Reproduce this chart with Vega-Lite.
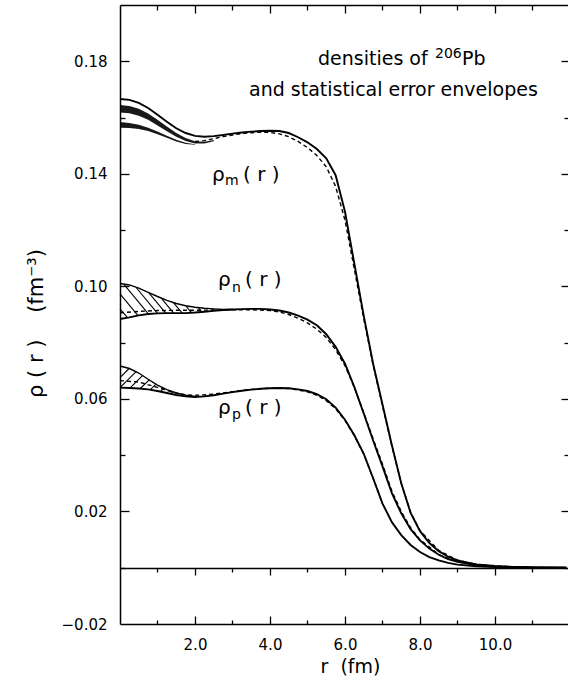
{
  "$schema": "https://vega.github.io/schema/vega-lite/v6.json",
  "width": 448,
  "height": 619,
  "autosize": {"type": "none"},
  "padding": {"left": 120, "top": 5, "right": 0, "bottom": 56},
  "background": "white",
  "config": {
    "view": {"stroke": null},
    "axis": {"grid": false, "domainColor": "black", "tickColor": "black", "labelColor": "black", "titleColor": "black", "labelFont": "DejaVu Sans", "titleFont": "DejaVu Sans", "domainWidth": 1.5, "tickWidth": 1.3, "titleFontWeight": "normal"}
  },
  "datasets": {
    "main": [
      {"s":"m","r":0,"v":0.1666},{"s":"m","r":0.25,"v":0.1663},{"s":"m","r":0.5,"v":0.1652},{"s":"m","r":0.75,"v":0.1634},{"s":"m","r":1,"v":0.1610},{"s":"m","r":1.25,"v":0.1585},{"s":"m","r":1.5,"v":0.1562},{"s":"m","r":1.75,"v":0.1545},{"s":"m","r":2,"v":0.1535},{"s":"m","r":2.25,"v":0.1532},{"s":"m","r":2.5,"v":0.1534},{"s":"m","r":2.75,"v":0.1538},{"s":"m","r":3,"v":0.1543},{"s":"m","r":3.25,"v":0.1547},{"s":"m","r":3.5,"v":0.1550},{"s":"m","r":3.75,"v":0.1552},{"s":"m","r":4,"v":0.1553},{"s":"m","r":4.25,"v":0.1552},{"s":"m","r":4.5,"v":0.1545},{"s":"m","r":4.75,"v":0.1530},{"s":"m","r":5,"v":0.1512},{"s":"m","r":5.25,"v":0.1488},{"s":"m","r":5.5,"v":0.1455},{"s":"m","r":5.75,"v":0.1395},{"s":"m","r":6,"v":0.1265},{"s":"m","r":6.25,"v":0.1080},{"s":"m","r":6.5,"v":0.0895},{"s":"m","r":6.75,"v":0.0725},{"s":"m","r":7,"v":0.0580},{"s":"m","r":7.25,"v":0.0435},{"s":"m","r":7.5,"v":0.0300},{"s":"m","r":7.75,"v":0.0195},{"s":"m","r":8,"v":0.0130},{"s":"m","r":8.25,"v":0.0088},{"s":"m","r":8.5,"v":0.0059},{"s":"m","r":8.75,"v":0.0039},{"s":"m","r":9,"v":0.0026},{"s":"m","r":9.5,"v":0.0012},{"s":"m","r":10,"v":0.0006},{"s":"m","r":10.5,"v":0.0003},{"s":"m","r":11,"v":0.0001},{"s":"m","r":11.9,"v":0.0},
      {"s":"n","r":0,"v":0.0884},{"s":"n","r":0.25,"v":0.0890},{"s":"n","r":0.5,"v":0.0897},{"s":"n","r":0.75,"v":0.0902},{"s":"n","r":1,"v":0.0904},{"s":"n","r":1.25,"v":0.0905},{"s":"n","r":1.5,"v":0.0905},{"s":"n","r":1.75,"v":0.0905},{"s":"n","r":2,"v":0.0907},{"s":"n","r":2.25,"v":0.0910},{"s":"n","r":2.5,"v":0.0913},{"s":"n","r":2.75,"v":0.0916},{"s":"n","r":3,"v":0.0918},{"s":"n","r":3.25,"v":0.0919},{"s":"n","r":3.5,"v":0.0920},{"s":"n","r":3.75,"v":0.0920},{"s":"n","r":4,"v":0.0918},{"s":"n","r":4.25,"v":0.0914},{"s":"n","r":4.5,"v":0.0907},{"s":"n","r":4.75,"v":0.0896},{"s":"n","r":5,"v":0.0882},{"s":"n","r":5.25,"v":0.0862},{"s":"n","r":5.5,"v":0.0830},{"s":"n","r":5.75,"v":0.0785},{"s":"n","r":6,"v":0.0725},{"s":"n","r":6.25,"v":0.0642},{"s":"n","r":6.5,"v":0.0548},{"s":"n","r":6.75,"v":0.0452},{"s":"n","r":7,"v":0.0360},{"s":"n","r":7.25,"v":0.0265},{"s":"n","r":7.5,"v":0.0193},{"s":"n","r":7.75,"v":0.0137},{"s":"n","r":8,"v":0.0097},{"s":"n","r":8.25,"v":0.0068},{"s":"n","r":8.5,"v":0.0046},{"s":"n","r":8.75,"v":0.0031},{"s":"n","r":9,"v":0.0021},{"s":"n","r":9.5,"v":0.0009},{"s":"n","r":10,"v":0.0004},{"s":"n","r":10.5,"v":0.0002},{"s":"n","r":11,"v":0.0001},{"s":"n","r":11.9,"v":0.0},
      {"s":"p","r":0,"v":0.0640},{"s":"p","r":0.25,"v":0.0639},{"s":"p","r":0.5,"v":0.0637},{"s":"p","r":0.75,"v":0.0634},{"s":"p","r":1,"v":0.0628},{"s":"p","r":1.25,"v":0.0621},{"s":"p","r":1.5,"v":0.0614},{"s":"p","r":1.75,"v":0.0609},{"s":"p","r":2,"v":0.0607},{"s":"p","r":2.25,"v":0.0609},{"s":"p","r":2.5,"v":0.0613},{"s":"p","r":2.75,"v":0.0619},{"s":"p","r":3,"v":0.0624},{"s":"p","r":3.25,"v":0.0629},{"s":"p","r":3.5,"v":0.0633},{"s":"p","r":3.75,"v":0.0636},{"s":"p","r":4,"v":0.0638},{"s":"p","r":4.25,"v":0.0639},{"s":"p","r":4.5,"v":0.0638},{"s":"p","r":4.75,"v":0.0634},{"s":"p","r":5,"v":0.0628},{"s":"p","r":5.25,"v":0.0617},{"s":"p","r":5.5,"v":0.0599},{"s":"p","r":5.75,"v":0.0569},{"s":"p","r":6,"v":0.0526},{"s":"p","r":6.25,"v":0.0471},{"s":"p","r":6.5,"v":0.0405},{"s":"p","r":6.75,"v":0.0318},{"s":"p","r":7,"v":0.0228},{"s":"p","r":7.25,"v":0.0162},{"s":"p","r":7.5,"v":0.0116},{"s":"p","r":7.75,"v":0.0081},{"s":"p","r":8,"v":0.0056},{"s":"p","r":8.25,"v":0.0038},{"s":"p","r":8.5,"v":0.0026},{"s":"p","r":8.75,"v":0.0017},{"s":"p","r":9,"v":0.0011},{"s":"p","r":9.5,"v":0.0005},{"s":"p","r":10,"v":0.0002},{"s":"p","r":11,"v":0.0},{"s":"p","r":11.9,"v":0.0}
    ],
    "dashed": [
      {"s":"m","r":2,"v":0.1515},{"s":"m","r":2.25,"v":0.1518},{"s":"m","r":2.5,"v":0.1525},{"s":"m","r":2.75,"v":0.1532},{"s":"m","r":3,"v":0.1538},{"s":"m","r":3.25,"v":0.1543},{"s":"m","r":3.5,"v":0.1546},{"s":"m","r":3.75,"v":0.1548},{"s":"m","r":4,"v":0.1547},{"s":"m","r":4.25,"v":0.1542},{"s":"m","r":4.5,"v":0.1532},{"s":"m","r":4.75,"v":0.1515},{"s":"m","r":5,"v":0.1493},{"s":"m","r":5.25,"v":0.1465},{"s":"m","r":5.5,"v":0.1425},{"s":"m","r":5.75,"v":0.1355},{"s":"m","r":6,"v":0.1235},{"s":"m","r":6.25,"v":0.1060},{"s":"m","r":6.5,"v":0.0885},{"s":"m","r":6.75,"v":0.0720},{"s":"m","r":7,"v":0.0575},{"s":"m","r":7.25,"v":0.0433},{"s":"m","r":7.5,"v":0.0300},{"s":"m","r":7.75,"v":0.0197},{"s":"m","r":8,"v":0.0132},{"s":"m","r":8.5,"v":0.0061},{"s":"m","r":9,"v":0.0027},{"s":"m","r":9.5,"v":0.0012},{"s":"m","r":10,"v":0.0006},{"s":"m","r":11,"v":0.0001},
      {"s":"n","r":0,"v":0.0906},{"s":"n","r":0.5,"v":0.0911},{"s":"n","r":1,"v":0.0914},{"s":"n","r":1.5,"v":0.0915},{"s":"n","r":2,"v":0.0915},{"s":"n","r":2.5,"v":0.0916},{"s":"n","r":3,"v":0.0917},{"s":"n","r":3.5,"v":0.0917},{"s":"n","r":4,"v":0.0914},{"s":"n","r":4.25,"v":0.0909},{"s":"n","r":4.5,"v":0.0900},{"s":"n","r":4.75,"v":0.0887},{"s":"n","r":5,"v":0.0870},{"s":"n","r":5.25,"v":0.0848},{"s":"n","r":5.5,"v":0.0818},{"s":"n","r":5.75,"v":0.0775},{"s":"n","r":6,"v":0.0718},{"s":"n","r":6.25,"v":0.0640},{"s":"n","r":6.5,"v":0.0550},{"s":"n","r":6.75,"v":0.0458},{"s":"n","r":7,"v":0.0368},{"s":"n","r":7.25,"v":0.0272},{"s":"n","r":7.5,"v":0.0200},{"s":"n","r":7.75,"v":0.0142},{"s":"n","r":8,"v":0.0100},{"s":"n","r":8.5,"v":0.0047},{"s":"n","r":9,"v":0.0021},{"s":"n","r":10,"v":0.0004},{"s":"n","r":11,"v":0.0001},
      {"s":"p","r":0,"v":0.0665},{"s":"p","r":0.5,"v":0.0660},{"s":"p","r":1,"v":0.0641},{"s":"p","r":1.25,"v":0.0630},{"s":"p","r":1.5,"v":0.0621},{"s":"p","r":1.75,"v":0.0615},{"s":"p","r":2,"v":0.0613},{"s":"p","r":2.25,"v":0.0614},{"s":"p","r":2.5,"v":0.0617},{"s":"p","r":3,"v":0.0626},{"s":"p","r":3.5,"v":0.0634},{"s":"p","r":4,"v":0.0638},{"s":"p","r":4.5,"v":0.0637},{"s":"p","r":4.75,"v":0.0632},{"s":"p","r":5,"v":0.0625},{"s":"p","r":5.25,"v":0.0613},{"s":"p","r":5.5,"v":0.0594},{"s":"p","r":5.75,"v":0.0565},{"s":"p","r":6,"v":0.0523},{"s":"p","r":6.25,"v":0.0469},{"s":"p","r":6.5,"v":0.0404},{"s":"p","r":6.75,"v":0.0318},{"s":"p","r":7,"v":0.0228}
    ],
    "outline": [
      {"s":"nu","r":0,"v":0.1010},{"s":"nu","r":0.25,"v":0.1005},{"s":"nu","r":0.5,"v":0.0994},{"s":"nu","r":0.75,"v":0.0979},{"s":"nu","r":1,"v":0.0964},{"s":"nu","r":1.25,"v":0.0950},{"s":"nu","r":1.5,"v":0.0939},{"s":"nu","r":1.75,"v":0.0931},{"s":"nu","r":2,"v":0.0926},{"s":"nu","r":2.25,"v":0.0922},{"s":"nu","r":2.5,"v":0.0920},{"s":"nu","r":2.75,"v":0.0918},{"s":"nu","r":3,"v":0.0918},
      {"s":"pu","r":0,"v":0.0717},{"s":"pu","r":0.25,"v":0.0708},{"s":"pu","r":0.5,"v":0.0692},{"s":"pu","r":0.75,"v":0.0670},{"s":"pu","r":1,"v":0.0649},{"s":"pu","r":1.25,"v":0.0633},{"s":"pu","r":1.5,"v":0.0621},{"s":"pu","r":1.75,"v":0.0613},{"s":"pu","r":2,"v":0.0609}
    ],
    "wedges": [
      {"w":"a","r":0,"lo":0.1618,"hi":0.1645},{"w":"a","r":0.25,"lo":0.1615,"hi":0.1641},{"w":"a","r":0.5,"lo":0.1606,"hi":0.1631},{"w":"a","r":0.75,"lo":0.1592,"hi":0.1614},{"w":"a","r":1,"lo":0.1572,"hi":0.1592},{"w":"a","r":1.25,"lo":0.1551,"hi":0.1568},{"w":"a","r":1.5,"lo":0.1532,"hi":0.1545},{"w":"a","r":1.75,"lo":0.1517,"hi":0.1527},{"w":"a","r":2,"lo":0.1508,"hi":0.1516},{"w":"a","r":2.25,"lo":0.1508,"hi":0.1514},{"w":"a","r":2.5,"lo":0.1516,"hi":0.1520},
      {"w":"b","r":0,"lo":0.1564,"hi":0.1584},{"w":"b","r":0.25,"lo":0.1563,"hi":0.1581},{"w":"b","r":0.5,"lo":0.1559,"hi":0.1574},{"w":"b","r":0.75,"lo":0.1552,"hi":0.1564},{"w":"b","r":1,"lo":0.1541,"hi":0.1550},{"w":"b","r":1.25,"lo":0.1528,"hi":0.1535},{"w":"b","r":1.5,"lo":0.1515,"hi":0.1521},{"w":"b","r":1.75,"lo":0.1506,"hi":0.1510},{"w":"b","r":2,"lo":0.1503,"hi":0.1505}
    ],
    "hatch": [
      {"r":0,"v":0.0973,"r2":0.47,"v2":0.0898},{"r":0,"v":0.0920,"r2":0.2,"v2":0.0889},{"r":0.1,"v":0.1008,"r2":0.75,"v2":0.0903},{"r":0.43,"v":0.0996,"r2":1.0,"v2":0.0904},{"r":0.77,"v":0.0977,"r2":1.22,"v2":0.0905},{"r":1.1,"v":0.0958,"r2":1.43,"v2":0.0905},{"r":1.43,"v":0.0941,"r2":1.66,"v2":0.0905},{"r":1.76,"v":0.0930,"r2":1.91,"v2":0.0906},{"r":2.09,"v":0.0924,"r2":2.18,"v2":0.0909},
      {"r":0,"v":0.0640,"r2":0.43,"v2":0.0697},{"r":0,"v":0.0676,"r2":0.25,"v2":0.0709},{"r":0.27,"v":0.0639,"r2":0.6,"v2":0.0683},{"r":0.54,"v":0.0637,"r2":0.78,"v2":0.0668},{"r":0.81,"v":0.0633,"r2":0.95,"v2":0.0652},{"r":1.08,"v":0.0626,"r2":1.17,"v2":0.0638},{"r":1.35,"v":0.0618,"r2":1.41,"v2":0.0626}
    ],
    "labels": [
      {"r":2.453,"v":0.1374,"t":"ρ"},{"r":3.28,"v":0.1374,"t":"(\u00a0r\u00a0)"},
      {"r":2.613,"v":0.1001,"t":"ρ"},{"r":3.333,"v":0.1001,"t":"(\u00a0r\u00a0)"},
      {"r":2.613,"v":0.0546,"t":"ρ"},{"r":3.333,"v":0.0546,"t":"(\u00a0r\u00a0)"}
    ],
    "subs": [
      {"r":2.8,"v":0.1360,"t":"m"},{"r":2.987,"v":0.0980,"t":"n"},{"r":2.987,"v":0.0529,"t":"p"},
      {"r":8.4,"v":0.1812,"t":"206"}
    ],
    "notes": [
      {"r":5.28,"v":0.1787,"t":"densities of"},
      {"r":9.12,"v":0.1787,"t":"Pb"},
      {"r":3.44,"v":0.1677,"t":"and statistical error envelopes"}
    ]
  },
  "resolve": {"axis": {"x": "independent", "y": "independent"}},
  "layer": [
    {
      "data": {"name": "wedges"},
      "mark": {"type": "area", "color": "black", "opacity": 0.9},
      "encoding": {
        "x": {"field": "r", "type": "quantitative", "scale": {"domain": [0, 11.9467], "nice": false, "zero": false},
          "axis": {"orient": "bottom", "values": [2, 4, 6, 8, 10], "format": ".1f", "ticks": false, "domain": true, "labelFontSize": 15, "labelPadding": 13, "title": "r\u00a0\u00a0(fm)", "titleFontSize": 19, "titleX": 230, "titleY": 42, "titleAlign": "center", "titleBaseline": "middle"}},
        "y": {"field": "lo", "type": "quantitative", "scale": {"domain": [-0.02, 0.2], "nice": false, "zero": false},
          "axis": {"orient": "left", "values": [-0.02, 0.02, 0.06, 0.1, 0.14, 0.18], "format": ".2f", "ticks": false, "domain": true, "labelFontSize": 15, "labelPadding": 13, "title": "ρ\u00a0(\u00a0r\u00a0)\u00a0\u00a0\u00a0\u00a0(fm⁻³)", "titleFontSize": 21, "titleAngle": -90, "titleX": -84, "titleY": 318, "titleAlign": "center", "titleBaseline": "middle"}},
        "y2": {"field": "hi"},
        "detail": {"field": "w"}
      }
    },
    {
      "data": {"name": "hatch"},
      "mark": {"type": "rule", "color": "black", "strokeWidth": 1.1},
      "encoding": {
        "x": {"field": "r", "type": "quantitative", "scale": {"domain": [0, 11.9467], "nice": false, "zero": false},
          "axis": {"orient": "bottom", "values": [2, 4, 6, 8, 10], "labels": false, "domain": false, "ticks": true, "tickSize": -8, "title": null}},
        "y": {"field": "v", "type": "quantitative", "scale": {"domain": [-0.02, 0.2], "nice": false, "zero": false},
          "axis": {"orient": "left", "values": [0.02, 0.06, 0.1, 0.14, 0.18], "labels": false, "domain": false, "ticks": true, "tickSize": -9, "title": null}},
        "x2": {"field": "r2"},
        "y2": {"field": "v2"}
      }
    },
    {
      "data": {"name": "outline"},
      "mark": {"type": "line", "color": "black", "strokeWidth": 1.4},
      "encoding": {
        "x": {"field": "r", "type": "quantitative", "scale": {"domain": [0, 11.9467], "nice": false, "zero": false},
          "axis": {"orient": "bottom", "values": [1, 3, 5, 7, 9, 11], "labels": false, "domain": false, "ticks": true, "tickSize": -4, "title": null}},
        "y": {"field": "v", "type": "quantitative", "scale": {"domain": [-0.02, 0.2], "nice": false, "zero": false},
          "axis": {"orient": "left", "values": [0, 0.04, 0.08, 0.12, 0.16], "labels": false, "domain": false, "ticks": true, "tickSize": -5, "title": null}},
        "detail": {"field": "s"}
      }
    },
    {
      "data": {"name": "main"},
      "mark": {"type": "line", "color": "black", "strokeWidth": 1.9},
      "encoding": {
        "x": {"field": "r", "type": "quantitative", "scale": {"domain": [0, 11.9467], "nice": false, "zero": false},
          "axis": {"orient": "top", "values": [2, 4, 6, 8, 10], "labels": false, "domain": true, "ticks": true, "tickSize": -8, "title": null}},
        "y": {"field": "v", "type": "quantitative", "scale": {"domain": [-0.02, 0.2], "nice": false, "zero": false},
          "axis": {"orient": "right", "values": [0.02, 0.06, 0.1, 0.14, 0.18], "labels": false, "domain": false, "ticks": true, "tickSize": -7, "title": null}},
        "detail": {"field": "s"}
      }
    },
    {
      "data": {"name": "dashed"},
      "mark": {"type": "line", "color": "black", "strokeWidth": 1.4, "strokeDash": [4, 3]},
      "encoding": {
        "x": {"field": "r", "type": "quantitative", "scale": {"domain": [0, 11.9467], "nice": false, "zero": false},
          "axis": {"orient": "top", "values": [1, 3, 5, 7, 9, 11], "labels": false, "domain": false, "ticks": true, "tickSize": -5, "title": null}},
        "y": {"field": "v", "type": "quantitative", "scale": {"domain": [-0.02, 0.2], "nice": false, "zero": false},
          "axis": {"orient": "right", "values": [0, 0.04, 0.08, 0.12, 0.16], "labels": false, "domain": false, "ticks": true, "tickSize": -4, "title": null}},
        "detail": {"field": "s"}
      }
    },
    {
      "data": {"name": "labels"},
      "mark": {"type": "text", "font": "DejaVu Sans", "fontSize": 20, "align": "left", "baseline": "alphabetic", "color": "black"},
      "encoding": {
        "x": {"field": "r", "type": "quantitative", "scale": {"domain": [0, 11.9467], "nice": false, "zero": false},
          "axis": {"orient": "bottom", "offset": -56, "values": [2, 4, 6, 8, 10], "labels": false, "domain": true, "ticks": true, "tickSize": 7, "title": null}},
        "y": {"field": "v", "type": "quantitative", "scale": {"domain": [-0.02, 0.2], "nice": false, "zero": false}, "axis": null},
        "text": {"field": "t"}
      }
    },
    {
      "data": {"name": "subs"},
      "mark": {"type": "text", "font": "DejaVu Sans", "fontSize": 14, "align": "left", "baseline": "alphabetic", "color": "black"},
      "encoding": {
        "x": {"field": "r", "type": "quantitative", "scale": {"domain": [0, 11.9467], "nice": false, "zero": false},
          "axis": {"orient": "bottom", "offset": -56, "values": [1, 3, 5, 7, 9, 11], "labels": false, "domain": false, "ticks": true, "tickSize": 4, "title": null}},
        "y": {"field": "v", "type": "quantitative", "scale": {"domain": [-0.02, 0.2], "nice": false, "zero": false}, "axis": null},
        "text": {"field": "t"}
      }
    },
    {
      "data": {"name": "notes"},
      "mark": {"type": "text", "font": "DejaVu Sans", "fontSize": 19, "align": "left", "baseline": "alphabetic", "color": "black"},
      "encoding": {
        "x": {"field": "r", "type": "quantitative", "scale": {"domain": [0, 11.9467], "nice": false, "zero": false}, "axis": null},
        "y": {"field": "v", "type": "quantitative", "scale": {"domain": [-0.02, 0.2], "nice": false, "zero": false}, "axis": null},
        "text": {"field": "t"}
      }
    }
  ]
}
